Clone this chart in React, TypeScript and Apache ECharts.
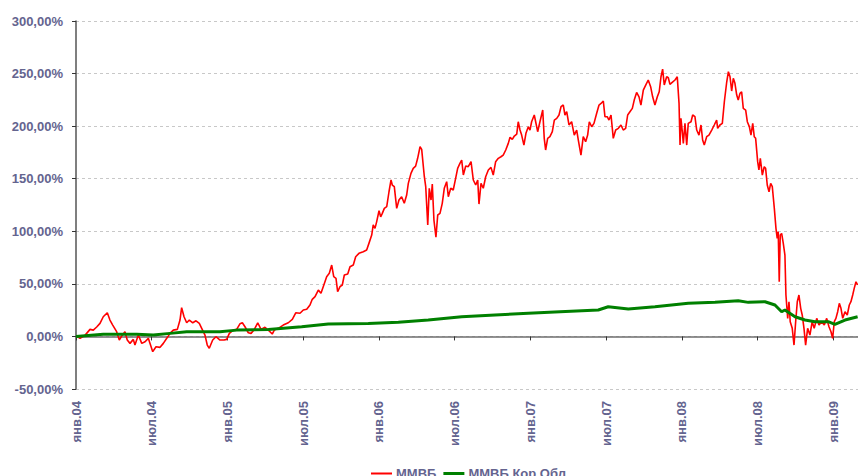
import React, { useEffect, useRef } from "react";
import * as echarts from "echarts";

// x = months since January 2004
const tickLabels = [
  "янв.04", "июл.04", "янв.05", "июл.05", "янв.06", "июл.06",
  "янв.07", "июл.07", "янв.08", "июл.08", "янв.09",
];

const micexMonths = [
  0.06, 0.32, 0.71, 1.11, 1.37, 1.64, 1.9, 2.16, 2.48, 2.69, 2.91, 3.22, 3.43, 3.62, 3.88, 4.06, 4.28, 4.54, 4.67, 4.94,
  5.21, 5.47, 5.73, 6.08, 6.34, 6.66, 6.92, 7.19, 7.45, 7.71, 8.03, 8.24, 8.37, 8.56, 8.77, 8.98, 9.25, 9.51, 9.77, 9.96,
  10.22, 10.4, 10.56, 10.83, 11.09, 11.41, 11.73, 11.94, 12.15, 12.46, 12.73, 12.99, 13.18, 13.39, 13.65, 13.87, 14.13, 14.4, 14.66, 14.97,
  15.24, 15.55, 15.71, 16.03, 16.42, 16.82, 17.14, 17.41, 17.75, 18.01, 18.28, 18.54, 18.72, 18.94, 19.2, 19.41, 19.59, 19.86, 20.07, 20.26,
  20.42, 20.6, 20.73, 20.92, 21.1, 21.26, 21.53, 21.71, 21.97, 22.16, 22.42, 22.76, 23.03, 23.21, 23.43, 23.55, 23.69, 23.82, 24.01, 24.14,
  24.27, 24.43, 24.62, 24.8, 24.96, 25.06, 25.22, 25.41, 25.59, 25.8, 26.01, 26.2, 26.33, 26.54, 26.72, 26.91, 27.07, 27.26, 27.39, 27.6,
  27.71, 27.87, 27.99, 28.13, 28.23, 28.36, 28.52, 28.66, 28.84, 29.02, 29.18, 29.37, 29.5, 29.69, 29.89, 30.08, 30.24, 30.42, 30.56, 30.69,
  30.88, 31.08, 31.3, 31.48, 31.67, 31.83, 31.93, 32.09, 32.27, 32.46, 32.67, 32.88, 33.06, 33.25, 33.46, 33.67, 33.85, 34.05, 34.25, 34.39,
  34.57, 34.73, 34.92, 35.04, 35.18, 35.31, 35.49, 35.65, 35.84, 35.97, 36.1, 36.31, 36.42, 36.58, 36.76, 36.98, 37.1, 37.21, 37.37, 37.55,
  37.74, 37.9, 38.09, 38.27, 38.43, 38.61, 38.74, 38.88, 39.06, 39.27, 39.48, 39.67, 39.8, 40.01, 40.19, 40.38, 40.54, 40.67, 40.86, 41.04,
  41.25, 41.44, 41.6, 41.78, 41.91, 42.09, 42.23, 42.39, 42.57, 42.76, 42.97, 43.18, 43.36, 43.55, 43.71, 43.89, 44.08, 44.23, 44.42, 44.61,
  44.76, 44.95, 45.14, 45.34, 45.53, 45.69, 45.87, 46.06, 46.21, 46.35, 46.48, 46.61, 46.8, 46.93, 47.06, 47.24, 47.46, 47.64, 47.78, 47.86,
  47.93, 48.04, 48.12, 48.25, 48.39, 48.51, 48.73, 48.86, 49.04, 49.18, 49.36, 49.52, 49.65, 49.78, 49.97, 50.15, 50.37, 50.57, 50.76, 50.84,
  51.02, 51.21, 51.37, 51.56, 51.69, 51.82, 51.95, 52.08, 52.21, 52.35, 52.47, 52.61, 52.74, 52.87, 53.06, 53.19, 53.35, 53.48, 53.62, 53.74,
  53.85, 54.01, 54.11, 54.22, 54.38, 54.53, 54.64, 54.77, 54.91, 55.04, 55.17, 55.33, 55.46, 55.56, 55.64, 55.72, 55.8, 55.91, 56.04, 56.17,
  56.25, 56.39, 56.49, 56.59, 56.75, 56.89, 57.02, 57.15, 57.28, 57.42, 57.54, 57.68, 57.81, 57.97, 58.15, 58.33, 58.49, 58.69, 58.87, 59.08,
  59.29, 59.48, 59.66, 59.82, 59.95, 60.08, 60.21, 60.35, 60.48, 60.61, 60.75, 60.93, 61.11, 61.27, 61.4, 61.54, 61.66, 61.8, 61.93,
];

const micexValues = [
  0, -1.8, 1, 6.7, 6, 9, 12.4, 18.7, 22.5, 15.6, 10.8, 4.5, -3.4, 0.4, 4.5, -3.4, -6.6, -2.8, -8.2, 1.3,
  -6.6, -5, -1.8, -14.5, -9.8, -10.4, -6.6, -1.8, 2.9, 6, 6.7, 15.6, 27.3, 18.7, 13, 15.6, 13, 14.9, 12.4, 7.7,
  1.3, -8.2, -11.3, -3.4, -0.3, -3.4, -3.4, -2.8, 2.9, 6, 6.7, 12, 13, 9.2, 3.5, 2.9, 6.7, 13, 6.7, 8.7,
  6, 2.3, 6, 7.7, 10.8, 13, 16.2, 22.5, 22, 25.1, 25.8, 29.9, 35.3, 37.8, 44.1, 41, 47.3, 56.8, 60, 67.9,
  56.8, 55.3, 42.5, 47.3, 48.9, 58.4, 59.3, 66.3, 67.9, 75.8, 79, 80.6, 82.2, 88.5, 96.4, 106, 102.8, 109, 119.5, 113.8,
  117, 121.8, 123.4, 137.6, 148.8, 144, 142.4, 121.8, 129.7, 132.9, 126.6, 134.5, 145.6, 155.1, 159.9, 162, 169.4, 180.4, 177.9, 151.9,
  142.4, 106, 140.9, 129.7, 145, 110.7, 94.3, 115.5, 117, 126.6, 140.9, 147.2, 132.9, 140.9, 139.3, 150.4, 159.9, 164.6, 167.8, 153.5,
  162.1, 161.4, 166.2, 148.8, 144, 148.8, 125.9, 145.6, 140.9, 151.9, 158.3, 160.8, 153.5, 166.2, 169.4, 170.9, 172.5, 177.3, 183.6, 189.4,
  187.4, 190.6, 192.5, 204.2, 196.3, 191.5, 182, 193.2, 199.4, 196.3, 204.2, 210.6, 204.2, 194.7, 204.2, 215.3, 188.4, 177.3, 188.4, 190,
  194.7, 205.8, 207.4, 210.6, 218.5, 220.1, 210.6, 213.7, 201.1, 204.2, 191.5, 196.3, 186.8, 172.5, 190, 185.2, 191.5, 204.2, 199.4, 202.6,
  212.1, 220.1, 221.6, 223.9, 209, 209, 205.8, 210.6, 188.4, 196.3, 197.9, 201.1, 196.3, 197.9, 210.6, 213.7, 216.9, 224.8, 232.1, 227.9,
  220.1, 234.3, 239.1, 243.9, 237.5, 227.9, 220.1, 227.9, 232.7, 247, 254.3, 239.1, 247, 246, 239.7, 241.6, 243.9, 247, 221.7, 182,
  207.4, 194.7, 183.6, 202.6, 182, 202.6, 204.2, 210.6, 209, 196.3, 191.5, 201.1, 186.8, 182, 190, 191.5, 196.3, 201.1, 205.8, 197.9,
  201.1, 202.6, 223.2, 242.2, 251.8, 247, 233.4, 245.5, 240.7, 229.6, 224.8, 231.2, 232.7, 216.9, 215.3, 204.2, 199.5, 191.5, 202.6, 190,
  188.4, 166.2, 158.3, 169.4, 153.5, 161.4, 159.9, 144, 137.6, 145.6, 142.4, 121.8, 102.8, 93.3, 99.6, 52, 96.4, 98, 88.5, 77.4,
  39.4, 17.2, 33, 14, 7.7, -8.2, 14, 33, 39.4, 26.7, 20.4, 7.7, -8.2, 7.7, 1.3, 14, 7.7, 17.2, 10.8, 14,
  10.8, 17.2, 9.2, 4.5, -1.8, 14, 17.2, 23.5, 31.5, 26.7, 17.2, 23.5, 20.4, 29.9, 33, 39.4, 45.7, 52, 48.9,
];

const bondMonths = [
  0, 2.16, 3.49, 4.81, 6.12, 7.45, 8.77, 10.09, 11.41, 12.73, 15.24, 17.88, 19.99, 23.16, 25.54, 27.91, 30.56, 33.2, 35.84, 38.35,
  41.38, 42.17, 43.76, 45.87, 48.51, 50.63, 52.47, 53.27, 54.59, 55.38, 55.91, 56.17, 56.97, 57.76, 58.55, 59.6, 60.13, 60.93, 61.93,
];

const bondValues = [
  0, 2, 2, 2, 1.3, 2.9, 4.5, 4.5, 4.5, 6, 6.7, 9.2, 11.8, 12.4, 13.4, 15.6, 18.7, 20.4, 22, 23.5,
  25.1, 28.2, 26, 28.2, 31.5, 32.4, 34, 32.4, 33, 29.9, 23.5, 25.1, 18.7, 15.6, 14, 14, 11.5, 15.6, 18.7,
];

const X_MAX = 61.96;
const FONT = "'Liberation Sans', Arial, sans-serif";
const LABEL_COLOR = "#64648f";

export default function App() {
  const ref = useRef<HTMLDivElement>(null);

  useEffect(() => {
    if (!ref.current) return;
    const chart = echarts.init(ref.current, undefined, { renderer: "svg" });
    const xLabel = (v: number) => {
      const i = Math.round(v / 6);
      return Math.abs(v - i * 6) < 1e-6 && tickLabels[i] ? tickLabels[i] : "";
    };
    chart.setOption({
      animation: false,
      backgroundColor: "#ffffff",
      textStyle: { fontFamily: FONT },
      grid: { left: 76, right: 0, top: 21, bottom: 87, containLabel: false },
      legend: {
        left: 371,
        top: 467,
        padding: 0,
        itemWidth: 21,
        itemHeight: 10,
        itemGap: 7,
        textStyle: { fontFamily: FONT, fontWeight: "bold", fontSize: 13, color: LABEL_COLOR, padding: [0, 0, 0, -1] },
        data: [
          { name: "ММВБ", icon: "path://M0,0 L21,0 L21,2 L0,2 Z" },
          { name: "ММВБ Кор Обл", icon: "path://M0,0 L21,0 L21,3 L0,3 Z" },
        ],
      },
      xAxis: [
        {
          type: "value",
          min: 0,
          max: X_MAX,
          interval: 6,
          axisLine: { show: true, onZero: true, lineStyle: { color: "#6e6e6e", width: 1.5 } },
          axisTick: { show: true, length: 4, lineStyle: { color: "#333", width: 1 } },
          axisLabel: { show: false },
          splitLine: { show: false },
        },
        {
          type: "value",
          position: "bottom",
          min: 0,
          max: X_MAX,
          interval: 6,
          axisLine: { show: false, onZero: false },
          axisTick: { show: false },
          axisLabel: {
            rotate: 90,
            margin: 12,
            formatter: xLabel,
            fontFamily: FONT,
            fontWeight: "bold",
            fontSize: 13,
            color: LABEL_COLOR,
          },
          splitLine: { show: false },
        },
      ],
      yAxis: {
        type: "value",
        min: -50,
        max: 300,
        interval: 50,
        axisLine: { show: true, lineStyle: { color: "#555", width: 1.5 } },
        axisTick: { show: true, length: 4, lineStyle: { color: "#333", width: 1 } },
        axisLabel: {
          margin: 13,
          formatter: (v: number) => v.toFixed(2).replace(".", ",") + "%",
          fontFamily: FONT,
          fontWeight: "bold",
          fontSize: 13,
          color: LABEL_COLOR,
        },
        splitLine: { show: true, lineStyle: { type: [3, 3], color: "#c8c8c8", width: 1 } },
      },
      series: [
        {
          name: "ММВБ",
          type: "line",
          xAxisIndex: 0,
          symbol: "none",
          color: "#ff0000",
          lineStyle: { color: "#ff0000", width: 1.6 },
          data: micexMonths.map((m, i) => [m, micexValues[i]]),
        },
        {
          name: "ММВБ Кор Обл",
          type: "line",
          xAxisIndex: 0,
          symbol: "none",
          color: "#008000",
          lineStyle: { color: "#008000", width: 3 },
          data: bondMonths.map((m, i) => [m, bondValues[i]]),
        },
      ],
    });
    return () => chart.dispose();
  }, []);

  return (
    <div
      ref={ref}
      style={{ position: "fixed", left: 0, top: 0, width: 858, height: 476, background: "#fff" }}
    />
  );
}
